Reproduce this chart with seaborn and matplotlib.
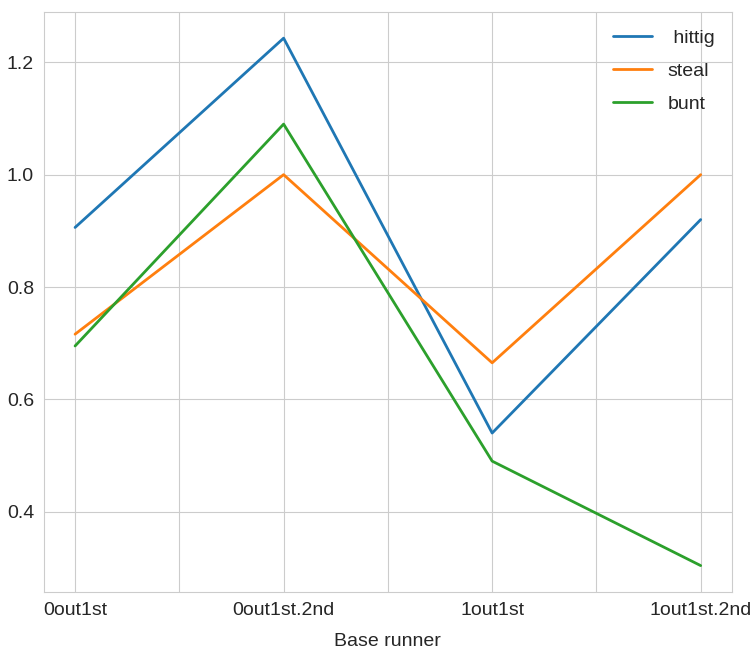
import matplotlib
matplotlib.use("Agg")
import matplotlib.pyplot as plt
import numpy as np
import pandas as pd
import seaborn as sns

# data
runners = ["0out1st", "0out1st.2nd", "1out1st", "1out1st.2nd"]
hittig = [0.906, 1.243, 0.540, 0.920]
steal = [0.716, 1.000, 0.665, 1.000]
bunt = [0.695, 1.090, 0.490, 0.304]

sns.set_style("whitegrid")
plt.rcParams["font.family"] = ["Liberation Sans", "DejaVu Sans"]
plt.rcParams["axes.edgecolor"] = "#cccccc"
plt.rcParams["grid.color"] = "#cccccc"

df = pd.DataFrame({" hittig": hittig, "steal": steal, "bunt": bunt}, index=runners)
df.index.name = "Base runner"
long_df = df.reset_index().melt(id_vars="Base runner", var_name="tactic", value_name="value")

fig, ax = plt.subplots(figsize=(7.55, 6.54), dpi=100)
sns.lineplot(data=long_df, x="Base runner", y="value", hue="tactic",
             palette=["#1f77b4", "#ff7f0e", "#2ca02c"], linewidth=2, ax=ax, sort=False)

ax.set_xlim(-0.15, 3.15)
ax.set_ylim(0.257, 1.29)
ticks = np.arange(0, 3.5, 0.5)
ax.set_xticks(ticks)
ax.set_xticklabels([runners[int(t)] if t == int(t) else "" for t in ticks], fontsize=14)
ax.tick_params(axis="y", labelsize=14)
ax.set_xlabel("Base runner", fontsize=14, labelpad=10)
ax.set_ylabel("")
ax.legend(loc="upper right", frameon=False, fontsize=14, title=None, labelspacing=0.8)

fig.subplots_adjust(left=0.058, right=0.9695, top=0.982, bottom=0.0948)
fig.savefig("out.png", dpi=100)
